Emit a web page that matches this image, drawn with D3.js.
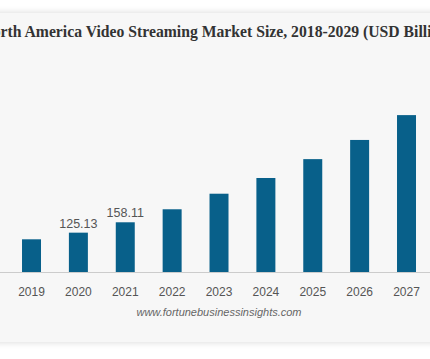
<!DOCTYPE html>
<html>
<head>
<meta charset="utf-8">
<script src="https://cdn.jsdelivr.net/npm/d3@7"></script>
<style>
  html, body { margin: 0; padding: 0; background: #fff; overflow: hidden; }
  #card {
    position: absolute; left: -20px; top: 13px; width: 470px; height: 329px;
    background: #f7f7f7; box-shadow: 0 0 7px rgba(0,0,0,0.16);
  }
  svg { position: absolute; left: 0; top: 0; }
</style>
</head>
<body>
<div id="card"></div>
<svg id="chart" width="430" height="359"></svg>
<script>
// all years in the series (chart is cropped on both sides)
const years = ["2018", "2019", "2020", "2021", "2022", "2023", "2024", "2025", "2026", "2027", "2028", "2029"];
// visible bars
const barYears = ["2019", "2020", "2021", "2022", "2023", "2024", "2025", "2026", "2027"];
const marketSize = [104, 125.13, 158.11, 199.5, 249, 299, 359, 420, 499];
const labelledYears = ["2020", "2021"];
const tickYears = barYears;

const title = "North America Video Streaming Market Size, 2018-2029 (USD Billion)";
const source = "www.fortunebusinessinsights.com";

const svg = d3.select("#chart"),
      width = +svg.attr("width"),
      height = +svg.attr("height");

const baseY = 272;

const x = d3.scaleBand()
    .domain(years)
    .range([-38.8, 523.7])
    .paddingInner(0.595)
    .paddingOuter(0.2975);

const y = d3.scaleLinear()
    .domain([0, 500])
    .range([baseY, 114.8]);

const data = barYears.map((yr, i) => ({ year: yr, value: marketSize[i] }));

// title - only its middle shows: "rth America ... (USD Bill" fills the width
const titleText = svg.append("text")
    .attr("y", 37)
    .style("font-family", "'Liberation Serif', 'Times New Roman', serif")
    .style("font-weight", "bold")
    .style("font-size", "16px")
    .style("fill", "#333")
    .text(title);
const shownEnd = title.indexOf("Bill") + 4;
const shownLen = titleText.node().getSubStringLength(2, shownEnd - 2);
const titleSize = 16 * 427 / shownLen;
titleText.style("font-size", titleSize + "px");
titleText.attr("x", -titleText.node().getSubStringLength(0, 2) + 0.5);

// baseline
svg.append("line")
    .attr("x1", 0).attr("x2", width)
    .attr("y1", baseY + 0.5).attr("y2", baseY + 0.5)
    .style("stroke", "#ccc")
    .style("stroke-width", 1);

// bars
svg.append("g")
    .selectAll("rect")
    .data(data)
    .enter().append("rect")
    .attr("x", d => x(d.year))
    .attr("y", d => y(d.value))
    .attr("width", x.bandwidth())
    .attr("height", d => baseY - y(d.value))
    .style("fill", "#08608a");

// value labels
svg.append("g")
    .selectAll("text")
    .data(data.filter(d => labelledYears.includes(d.year)))
    .enter().append("text")
    .attr("x", d => x(d.year) + x.bandwidth() / 2)
    .attr("y", d => y(d.value) - 5)
    .attr("text-anchor", "middle")
    .style("font-family", "'Liberation Sans', Arial, sans-serif")
    .style("font-size", "12.5px")
    .style("fill", "#555")
    .text(d => d.value.toFixed(2));

// x axis labels
const xAxis = d3.axisBottom(x).tickValues(tickYears).tickSize(0).tickPadding(15);
const gx = svg.append("g")
    .attr("transform", `translate(0,${baseY})`)
    .call(xAxis);
gx.select(".domain").remove();
gx.selectAll("text")
    .style("font-family", "'Liberation Sans', Arial, sans-serif")
    .style("font-size", "12px")
    .style("fill", "#555");

// source
svg.append("text")
    .attr("x", 219)
    .attr("y", 316)
    .attr("text-anchor", "middle")
    .style("font-family", "'Liberation Sans', Arial, sans-serif")
    .style("font-style", "italic")
    .style("font-size", "11px")
    .style("fill", "#666")
    .text(source);
</script>
</body>
</html>
